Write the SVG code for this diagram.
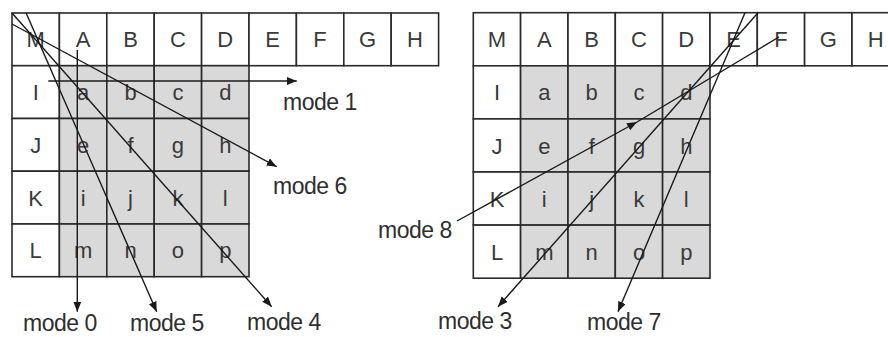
<svg xmlns="http://www.w3.org/2000/svg" width="888" height="337" viewBox="0 0 888 337">
<defs>
<marker id="ah" markerUnits="userSpaceOnUse" markerWidth="12" markerHeight="10" refX="10" refY="4" orient="auto">
<path d="M0,0 L10,4 L0,8 Z" fill="#1a1a1a"/>
</marker>
</defs>
<style>
.c{fill:#ffffff;stroke:#2a2a2a;stroke-width:1.6}
.s{fill:#d9d9d9;stroke:#2a2a2a;stroke-width:1.6}
.t{font-family:"Liberation Sans",Arial,sans-serif;font-size:22px;fill:#3a3a3a;text-anchor:middle}
.l{font-family:"Liberation Sans",Arial,sans-serif;font-size:23px;fill:#2e2e2e;letter-spacing:-0.5px}
.a{stroke:#1a1a1a;stroke-width:1.4;fill:none}
</style>
<rect width="888" height="337" fill="#ffffff"/>

<!-- Left grid -->
<g id="left-grid">
<g id="L-M"><rect class="c" x="12" y="13" width="47.4" height="52.7"/><text class="t" x="35.7" y="47.4">M</text></g>
<g id="L-A"><rect class="c" x="59.4" y="13" width="47.4" height="52.7"/><text class="t" x="83.1" y="47.4">A</text></g>
<g id="L-B"><rect class="c" x="106.8" y="13" width="47.4" height="52.7"/><text class="t" x="130.5" y="47.4">B</text></g>
<g id="L-C"><rect class="c" x="154.2" y="13" width="47.4" height="52.7"/><text class="t" x="177.9" y="47.4">C</text></g>
<g id="L-D"><rect class="c" x="201.6" y="13" width="47.4" height="52.7"/><text class="t" x="225.3" y="47.4">D</text></g>
<g id="L-E"><rect class="c" x="249" y="13" width="47.4" height="52.7"/><text class="t" x="272.7" y="47.4">E</text></g>
<g id="L-F"><rect class="c" x="296.4" y="13" width="47.4" height="52.7"/><text class="t" x="320.1" y="47.4">F</text></g>
<g id="L-G"><rect class="c" x="343.8" y="13" width="47.4" height="52.7"/><text class="t" x="367.5" y="47.4">G</text></g>
<g id="L-H"><rect class="c" x="391.2" y="13" width="47.4" height="52.7"/><text class="t" x="414.9" y="47.4">H</text></g>

<g id="L-I"><rect class="c" x="12" y="65.7" width="47.4" height="52.8"/><text class="t" x="35.7" y="100.1">I</text></g>
<g id="L-J"><rect class="c" x="12" y="118.5" width="47.4" height="52.7"/><text class="t" x="35.7" y="152.9">J</text></g>
<g id="L-K"><rect class="c" x="12" y="171.2" width="47.4" height="52.8"/><text class="t" x="35.7" y="205.6">K</text></g>
<g id="L-L"><rect class="c" x="12" y="224" width="47.4" height="52.7"/><text class="t" x="35.7" y="258.4">L</text></g>

<g id="L-a"><rect class="s" x="59.4" y="65.7" width="47.4" height="52.8"/><text class="t" x="83.1" y="100.1">a</text></g>
<g id="L-b"><rect class="s" x="106.8" y="65.7" width="47.4" height="52.8"/><text class="t" x="130.5" y="100.1">b</text></g>
<g id="L-c"><rect class="s" x="154.2" y="65.7" width="47.4" height="52.8"/><text class="t" x="177.9" y="100.1">c</text></g>
<g id="L-d"><rect class="s" x="201.6" y="65.7" width="47.4" height="52.8"/><text class="t" x="225.3" y="100.1">d</text></g>
<g id="L-e"><rect class="s" x="59.4" y="118.5" width="47.4" height="52.7"/><text class="t" x="83.1" y="152.9">e</text></g>
<g id="L-f"><rect class="s" x="106.8" y="118.5" width="47.4" height="52.7"/><text class="t" x="130.5" y="152.9">f</text></g>
<g id="L-g"><rect class="s" x="154.2" y="118.5" width="47.4" height="52.7"/><text class="t" x="177.9" y="152.9">g</text></g>
<g id="L-h"><rect class="s" x="201.6" y="118.5" width="47.4" height="52.7"/><text class="t" x="225.3" y="152.9">h</text></g>
<g id="L-i"><rect class="s" x="59.4" y="171.2" width="47.4" height="52.8"/><text class="t" x="83.1" y="205.6">i</text></g>
<g id="L-j"><rect class="s" x="106.8" y="171.2" width="47.4" height="52.8"/><text class="t" x="130.5" y="205.6">j</text></g>
<g id="L-k"><rect class="s" x="154.2" y="171.2" width="47.4" height="52.8"/><text class="t" x="177.9" y="205.6">k</text></g>
<g id="L-l"><rect class="s" x="201.6" y="171.2" width="47.4" height="52.8"/><text class="t" x="225.3" y="205.6">l</text></g>
<g id="L-m"><rect class="s" x="59.4" y="224" width="47.4" height="52.7"/><text class="t" x="83.1" y="258.4">m</text></g>
<g id="L-n"><rect class="s" x="106.8" y="224" width="47.4" height="52.7"/><text class="t" x="130.5" y="258.4">n</text></g>
<g id="L-o"><rect class="s" x="154.2" y="224" width="47.4" height="52.7"/><text class="t" x="177.9" y="258.4">o</text></g>
<g id="L-p"><rect class="s" x="201.6" y="224" width="47.4" height="52.7"/><text class="t" x="225.3" y="258.4">p</text></g>
</g>

<!-- Right grid -->
<g id="right-grid">
<g id="R-M"><rect class="c" x="473.3" y="12.7" width="47.3" height="53.1"/><text class="t" x="497" y="47.3">M</text></g>
<g id="R-A"><rect class="c" x="520.6" y="12.7" width="47.4" height="53.1"/><text class="t" x="544.3" y="47.3">A</text></g>
<g id="R-B"><rect class="c" x="568" y="12.7" width="47.3" height="53.1"/><text class="t" x="591.7" y="47.3">B</text></g>
<g id="R-C"><rect class="c" x="615.3" y="12.7" width="47.3" height="53.1"/><text class="t" x="639" y="47.3">C</text></g>
<g id="R-D"><rect class="c" x="662.6" y="12.7" width="47.4" height="53.1"/><text class="t" x="686.3" y="47.3">D</text></g>
<g id="R-E"><rect class="c" x="710" y="12.7" width="47.3" height="53.1"/><text class="t" x="733.7" y="47.3">E</text></g>
<g id="R-F"><rect class="c" x="757.3" y="12.7" width="47.3" height="53.1"/><text class="t" x="781" y="47.3">F</text></g>
<g id="R-G"><rect class="c" x="804.6" y="12.7" width="47.4" height="53.1"/><text class="t" x="828.3" y="47.3">G</text></g>
<g id="R-H"><rect class="c" x="852" y="12.7" width="47.3" height="53.1"/><text class="t" x="875.7" y="47.3">H</text></g>

<g id="R-I"><rect class="c" x="473.3" y="65.8" width="47.3" height="53.1"/><text class="t" x="497" y="100.4">I</text></g>
<g id="R-J"><rect class="c" x="473.3" y="118.9" width="47.3" height="53.1"/><text class="t" x="497" y="153.5">J</text></g>
<g id="R-K"><rect class="c" x="473.3" y="172" width="47.3" height="53.1"/><text class="t" x="497" y="206.6">K</text></g>
<g id="R-L"><rect class="c" x="473.3" y="225.1" width="47.3" height="53.1"/><text class="t" x="497" y="259.7">L</text></g>

<g id="R-a"><rect class="s" x="520.6" y="65.8" width="47.4" height="53.1"/><text class="t" x="544.3" y="100.4">a</text></g>
<g id="R-b"><rect class="s" x="568" y="65.8" width="47.3" height="53.1"/><text class="t" x="591.7" y="100.4">b</text></g>
<g id="R-c"><rect class="s" x="615.3" y="65.8" width="47.3" height="53.1"/><text class="t" x="639" y="100.4">c</text></g>
<g id="R-d"><rect class="s" x="662.6" y="65.8" width="47.4" height="53.1"/><text class="t" x="686.3" y="100.4">d</text></g>
<g id="R-e"><rect class="s" x="520.6" y="118.9" width="47.4" height="53.1"/><text class="t" x="544.3" y="153.5">e</text></g>
<g id="R-f"><rect class="s" x="568" y="118.9" width="47.3" height="53.1"/><text class="t" x="591.7" y="153.5">f</text></g>
<g id="R-g"><rect class="s" x="615.3" y="118.9" width="47.3" height="53.1"/><text class="t" x="639" y="153.5">g</text></g>
<g id="R-h"><rect class="s" x="662.6" y="118.9" width="47.4" height="53.1"/><text class="t" x="686.3" y="153.5">h</text></g>
<g id="R-i"><rect class="s" x="520.6" y="172" width="47.4" height="53.1"/><text class="t" x="544.3" y="206.6">i</text></g>
<g id="R-j"><rect class="s" x="568" y="172" width="47.3" height="53.1"/><text class="t" x="591.7" y="206.6">j</text></g>
<g id="R-k"><rect class="s" x="615.3" y="172" width="47.3" height="53.1"/><text class="t" x="639" y="206.6">k</text></g>
<g id="R-l"><rect class="s" x="662.6" y="172" width="47.4" height="53.1"/><text class="t" x="686.3" y="206.6">l</text></g>
<g id="R-m"><rect class="s" x="520.6" y="225.1" width="47.4" height="53.1"/><text class="t" x="544.3" y="259.7">m</text></g>
<g id="R-n"><rect class="s" x="568" y="225.1" width="47.3" height="53.1"/><text class="t" x="591.7" y="259.7">n</text></g>
<g id="R-o"><rect class="s" x="615.3" y="225.1" width="47.3" height="53.1"/><text class="t" x="639" y="259.7">o</text></g>
<g id="R-p"><rect class="s" x="662.6" y="225.1" width="47.4" height="53.1"/><text class="t" x="686.3" y="259.7">p</text></g>
</g>

<!-- Connectors -->
<g id="connectors">
<line class="a" x1="77.3" y1="50" x2="77.3" y2="311.7" marker-end="url(#ah)"/>
<line class="a" x1="48.3" y1="81" x2="296.7" y2="81" marker-end="url(#ah)"/>
<line class="a" x1="12" y1="13" x2="271.7" y2="306.7" marker-end="url(#ah)"/>
<line class="a" x1="26" y1="12.7" x2="156.7" y2="311.7" marker-end="url(#ah)"/>
<line class="a" x1="12" y1="24" x2="276.7" y2="166.7" marker-end="url(#ah)"/>
<line class="a" x1="758" y1="12.7" x2="498" y2="306.7" marker-end="url(#ah)"/>
<line class="a" x1="745" y1="12.7" x2="618" y2="311.7" marker-end="url(#ah)"/>
<line class="a" x1="457" y1="221" x2="637" y2="122" marker-end="url(#ah)"/>
<line class="a" x1="637" y1="122" x2="779" y2="37"/>
</g>

<!-- Labels -->
<g id="labels">
<text class="l" x="23" y="331">mode 0</text>
<text class="l" x="130" y="331">mode 5</text>
<text class="l" x="247" y="330">mode 4</text>
<text class="l" x="283" y="110">mode 1</text>
<text class="l" x="273" y="194">mode 6</text>
<text class="l" x="378" y="238">mode 8</text>
<text class="l" x="438" y="329">mode 3</text>
<text class="l" x="587" y="330">mode 7</text>
</g>
</svg>
